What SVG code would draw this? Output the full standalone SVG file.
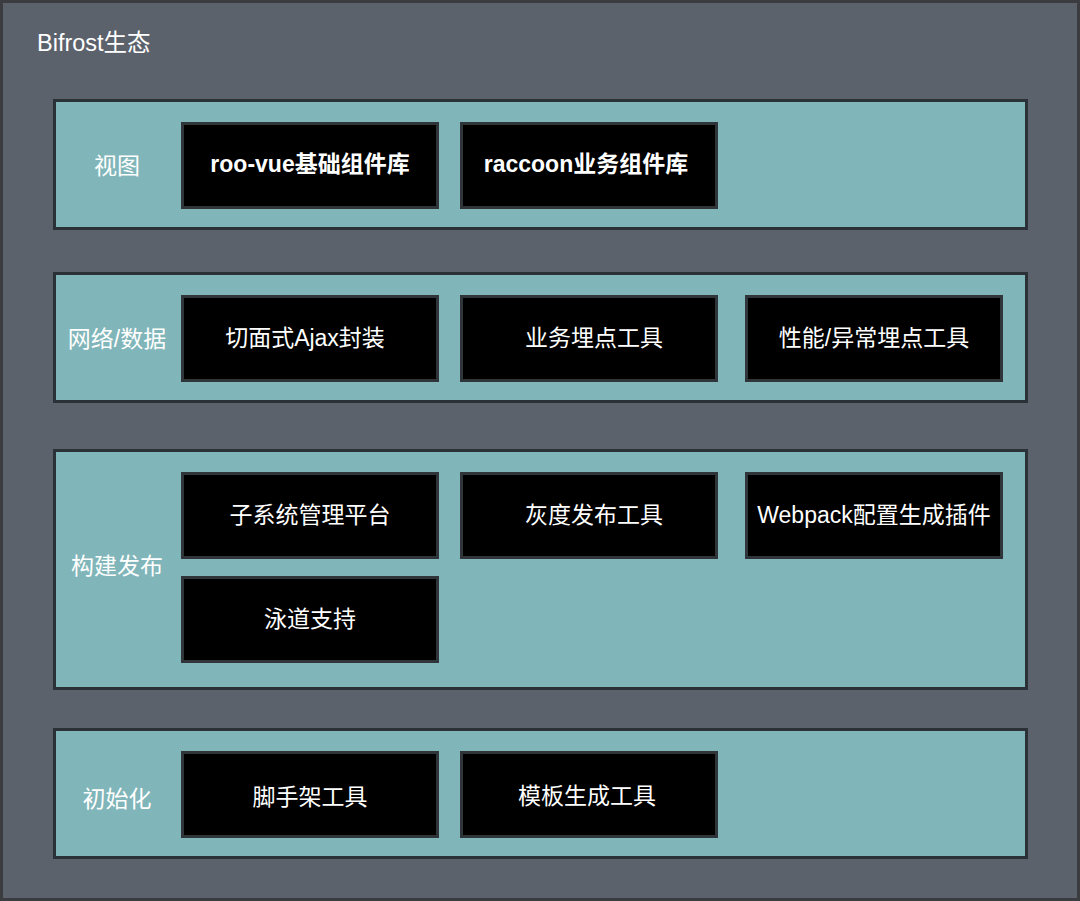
<svg xmlns="http://www.w3.org/2000/svg" width="1080" height="901" viewBox="0 0 1080 901">
<style>
.band{fill:#80b5b9;stroke:#2b3237;stroke-width:3}
.box{fill:#000;stroke:#2f3538;stroke-width:3}
.t{font-family:"Liberation Sans","Noto Sans CJK SC",sans-serif;font-size:23px;fill:#fff;text-anchor:middle;dominant-baseline:central}
.b{font-weight:bold}
</style>
<rect x="1.5" y="1.5" width="1077" height="898" fill="#5c626c" stroke="#3a3c40" stroke-width="3"/>
<text x="37" y="43" class="t" style="text-anchor:start;font-size:23.5px">Bifrost生态</text>
<g id="band-view">
<rect class="band" x="54.5" y="100.5" width="972" height="128"/>
<text class="t" x="117" y="166">视图</text>
</g>
<g id="band-net">
<rect class="band" x="54.5" y="273.5" width="972" height="128"/>
<text class="t" x="117" y="339">网络/数据</text>
</g>
<g id="band-build">
<rect class="band" x="54.5" y="450.5" width="972" height="238"/>
<text class="t" x="117" y="566">构建发布</text>
</g>
<g id="band-init">
<rect class="band" x="54.5" y="729.5" width="972" height="128"/>
<text class="t" x="117" y="799">初始化</text>
</g>
<g id="n-roovue"><rect class="box" x="182.5" y="123.5" width="255" height="84"/><text class="t b" x="310" y="164">roo-vue基础组件库</text></g>
<g id="n-raccoon"><rect class="box" x="461.5" y="123.5" width="255" height="84"/><text class="t b" x="586" y="164">raccoon业务组件库</text></g>
<g id="n-ajax"><rect class="box" x="182.5" y="296.5" width="255" height="84"/><text class="t" x="305" y="338">切面式Ajax封装</text></g>
<g id="n-biz"><rect class="box" x="461.5" y="296.5" width="255" height="84"/><text class="t" x="594" y="338">业务埋点工具</text></g>
<g id="n-perf"><rect class="box" x="746.5" y="296.5" width="255" height="84"/><text class="t" x="874" y="338">性能/异常埋点工具</text></g>
<g id="n-sub"><rect class="box" x="182.5" y="473.5" width="255" height="84"/><text class="t" x="310" y="515">子系统管理平台</text></g>
<g id="n-gray"><rect class="box" x="461.5" y="473.5" width="255" height="84"/><text class="t" x="594" y="515">灰度发布工具</text></g>
<g id="n-webpack"><rect class="box" x="746.5" y="473.5" width="255" height="84"/><text class="t" x="874" y="515">Webpack配置生成插件</text></g>
<g id="n-lane"><rect class="box" x="182.5" y="577.5" width="255" height="84"/><text class="t" x="310" y="619">泳道支持</text></g>
<g id="n-scaffold"><rect class="box" x="182.5" y="752.5" width="255" height="84"/><text class="t" x="310" y="797">脚手架工具</text></g>
<g id="n-tpl"><rect class="box" x="461.5" y="752.5" width="255" height="84"/><text class="t" x="587" y="796">模板生成工具</text></g>
<g id="connectors"/>
</svg>
